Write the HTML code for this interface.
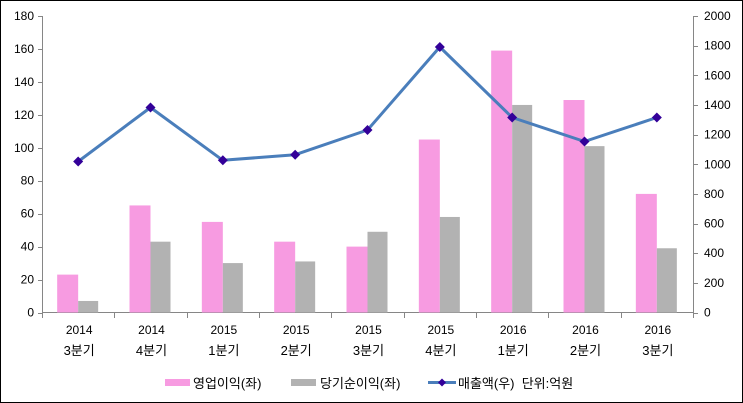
<!DOCTYPE html>
<html><head><meta charset="utf-8"><style>
html,body{margin:0;padding:0;background:#fff}
svg{display:block}
text{font-family:"Liberation Sans","Noto Sans CJK KR",sans-serif;font-size:12px;fill:#000;white-space:pre}
.lg{font-size:13px}
</style></head><body>
<svg width="743" height="403" viewBox="0 0 743 403">
<rect x="0.5" y="0.5" width="742" height="402" fill="#fff" stroke="#000"/>
<g stroke="#868686" stroke-width="1">
<line x1="42.5" y1="16" x2="42.5" y2="313"/>
<line x1="693.5" y1="16" x2="693.5" y2="313"/>
<line x1="42" y1="312.5" x2="694" y2="312.5"/>
</g>
<g id="bars"></g>
<g id="ticks" stroke="#868686"></g>
<g id="labels"></g>
<polyline fill="none" stroke="#4a7ebb" stroke-width="3" stroke-linejoin="round" points="78.2,161.5 150.5,107.5 222.8,160.3 295.2,154.7 367.5,130 439.8,47 512.2,117.5 584.5,141.5 656.8,117.5"/>
<g id="marks" fill="#330099"></g>
<rect x="165" y="379" width="25" height="7" fill="#f79be1"/>
<text class="lg" x="193" y="388">영업이익(좌)</text>
<rect x="291" y="379" width="25" height="7" fill="#b2b2b2"/>
<text class="lg" x="320" y="388">당기순이익(좌)</text>
<line x1="428" y1="382.5" x2="456" y2="382.5" stroke="#4a7ebb" stroke-width="3"/>
<path d="M442 378.5 L446 382.5 L442 386.5 L438 382.5Z" fill="#330099"/>
<text class="lg" x="458" y="388">매출액(우)  단위:억원</text>
</svg>
<script>
var ns="http://www.w3.org/2000/svg";
function el(p,t,a,tx){var e=document.createElementNS(ns,t);for(var k in a)e.setAttribute(k,a[k]);if(tx!==undefined)e.textContent=tx;document.getElementById(p).appendChild(e);}
var y0=312.5,s=296.5/180;
for(var i=0;i<=9;i++){var v=i*20,y=y0-v*s;
 el("ticks","line",{x1:38,x2:42,y1:Math.round(y)+0.5,y2:Math.round(y)+0.5});
 el("labels","text",{x:34,y:y+4,"text-anchor":"end"},v);}
for(var i=0;i<=10;i++){var y=y0-i*29.65;
 el("ticks","line",{x1:693,x2:698,y1:Math.round(y)+0.5,y2:Math.round(y)+0.5});
 el("labels","text",{x:704,y:y+4},i*200);}
var w=651/9;
var p=[23,65,55,43,40,105,159,129,72],g=[7,43,30,31,49,58,126,101,39];
var yr=["2014","2014","2015","2015","2015","2015","2016","2016","2016"],q=["3분기","4분기","1분기","2분기","3분기","4분기","1분기","2분기","3분기"];
var ly=[161.5,107.5,160.3,154.7,130,47,117.5,141.5,117.5];
for(var k=0;k<9;k++){var c=42+w*(k+0.5);
 el("bars","rect",{x:c-21,y:y0-p[k]*s,width:21,height:p[k]*s,fill:"#f79be1"});
 el("bars","rect",{x:c,y:y0-g[k]*s,width:20,height:g[k]*s,fill:"#b2b2b2"});
 var tx=Math.round(42+w*k)+0.5;el("ticks","line",{x1:tx,x2:tx,y1:313,y2:318});
 el("labels","text",{x:c+1,y:334,"text-anchor":"middle"},yr[k]);
 el("labels","text",{x:c+1,y:355,"text-anchor":"middle",class:"lg"},q[k]);
 el("marks","path",{d:"M"+c+" "+(ly[k]-5)+" L"+(c+5)+" "+ly[k]+" L"+c+" "+(ly[k]+5)+" L"+(c-5)+" "+ly[k]+"Z"});}
el("ticks","line",{x1:693.5,x2:693.5,y1:313,y2:318});
</script>
</body></html>
